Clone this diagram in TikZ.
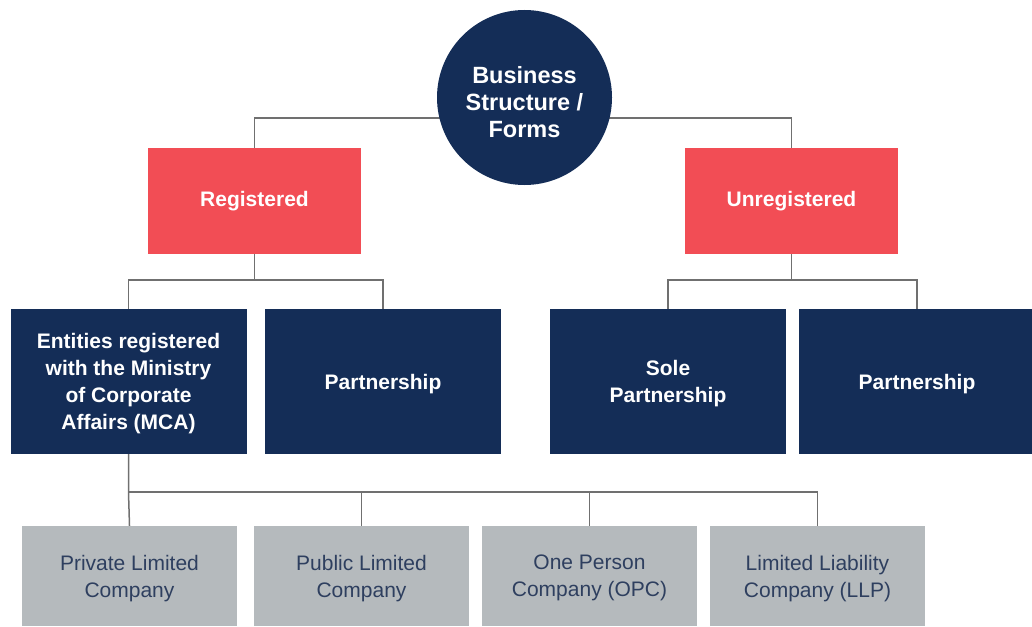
\documentclass[tikz,border=0pt]{standalone}
\usepackage{fontspec}
\setmainfont{Liberation Sans}
\usetikzlibrary{positioning,calc,backgrounds}
\definecolor{navy}{HTML}{142D57}
\definecolor{coral}{HTML}{F24D55}
\definecolor{silver}{HTML}{B5BABD}
\definecolor{slate}{HTML}{2E3F5F}
\definecolor{wire}{HTML}{707070}

\begin{document}
\begin{tikzpicture}
  [x=1pt,y=-1pt,
   rootN/.style={circle,fill=navy,minimum size=175pt,inner sep=0pt,align=center,
     text height=80pt,text depth=0pt,text=white,font=\fontsize{23.5}{27}\selectfont\bfseries},
   redN/.style={rectangle,fill=coral,minimum width=213pt,minimum height=106pt,
     text=white,font=\fontsize{21}{27}\selectfont\bfseries},
   navyN/.style={rectangle,fill=navy,minimum width=236pt,minimum height=145pt,
     align=center,text depth=0pt,text=white,font=\fontsize{21}{27}\selectfont\bfseries},
   greyN/.style={rectangle,fill=silver,minimum width=215pt,minimum height=100pt,
     align=center,text depth=0pt,text=slate,font=\fontsize{21}{27}\selectfont},
   link/.style={draw=wire,line width=1.5pt}]

  \clip (0,0) rectangle (1032,626);

  \node[rootN] (root) at (524.5,97.5) {Business\\Structure /\\Forms};
  \node[redN] (reg) at (254.5,201) {Registered};
  \node[redN] (unreg) at (791.5,201) {Unregistered};

  \node[navyN] (mca) at (128.5,381.5) {Entities registered\\with the Ministry\\of Corporate\\Affairs (MCA)};
  \node[navyN] (regpart) at (383,381.5) {Partnership};
  \node[navyN] (sole) at (668,381.5) {Sole\\Partnership};
  \node[navyN] (unregpart) at (917,381.5) {Partnership};

  \node[greyN] (pvt) at (129.5,576) {Private Limited\\Company};
  \node[greyN] (pub) at (361.5,576) {Public Limited\\Company};
  \node[greyN] (opc) at (589.5,576) {One Person\\Company (OPC)};
  \node[greyN] (llp) at (817.5,576) {Limited Liability\\Company (LLP)};

  % connectors
  \begin{pgfonlayer}{background}
    \coordinate (rootbar) at ($(root.center)+(0,20.5)$);
    \draw[link] (reg.north) |- (rootbar) -| (unreg.north);
  \end{pgfonlayer}

  \draw[link] (reg.south) -- ++(0,26) coordinate (regbar);
  \draw[link] (mca.north) |- (regbar) -| (regpart.north);

  \draw[link] (unreg.south) -- ++(0,26) coordinate (unregbar);
  \draw[link] (sole.north) |- (unregbar) -| (unregpart.north);

  \draw[link] (mca.south) -- ++(0,38) coordinate (mcabar) -- (pvt.north);
  \draw[link] (mcabar) -| (llp.north);
  \draw[link] (pub.north) -- (pub.north |- mcabar);
  \draw[link] (opc.north) -- (opc.north |- mcabar);
\end{tikzpicture}
\end{document}
